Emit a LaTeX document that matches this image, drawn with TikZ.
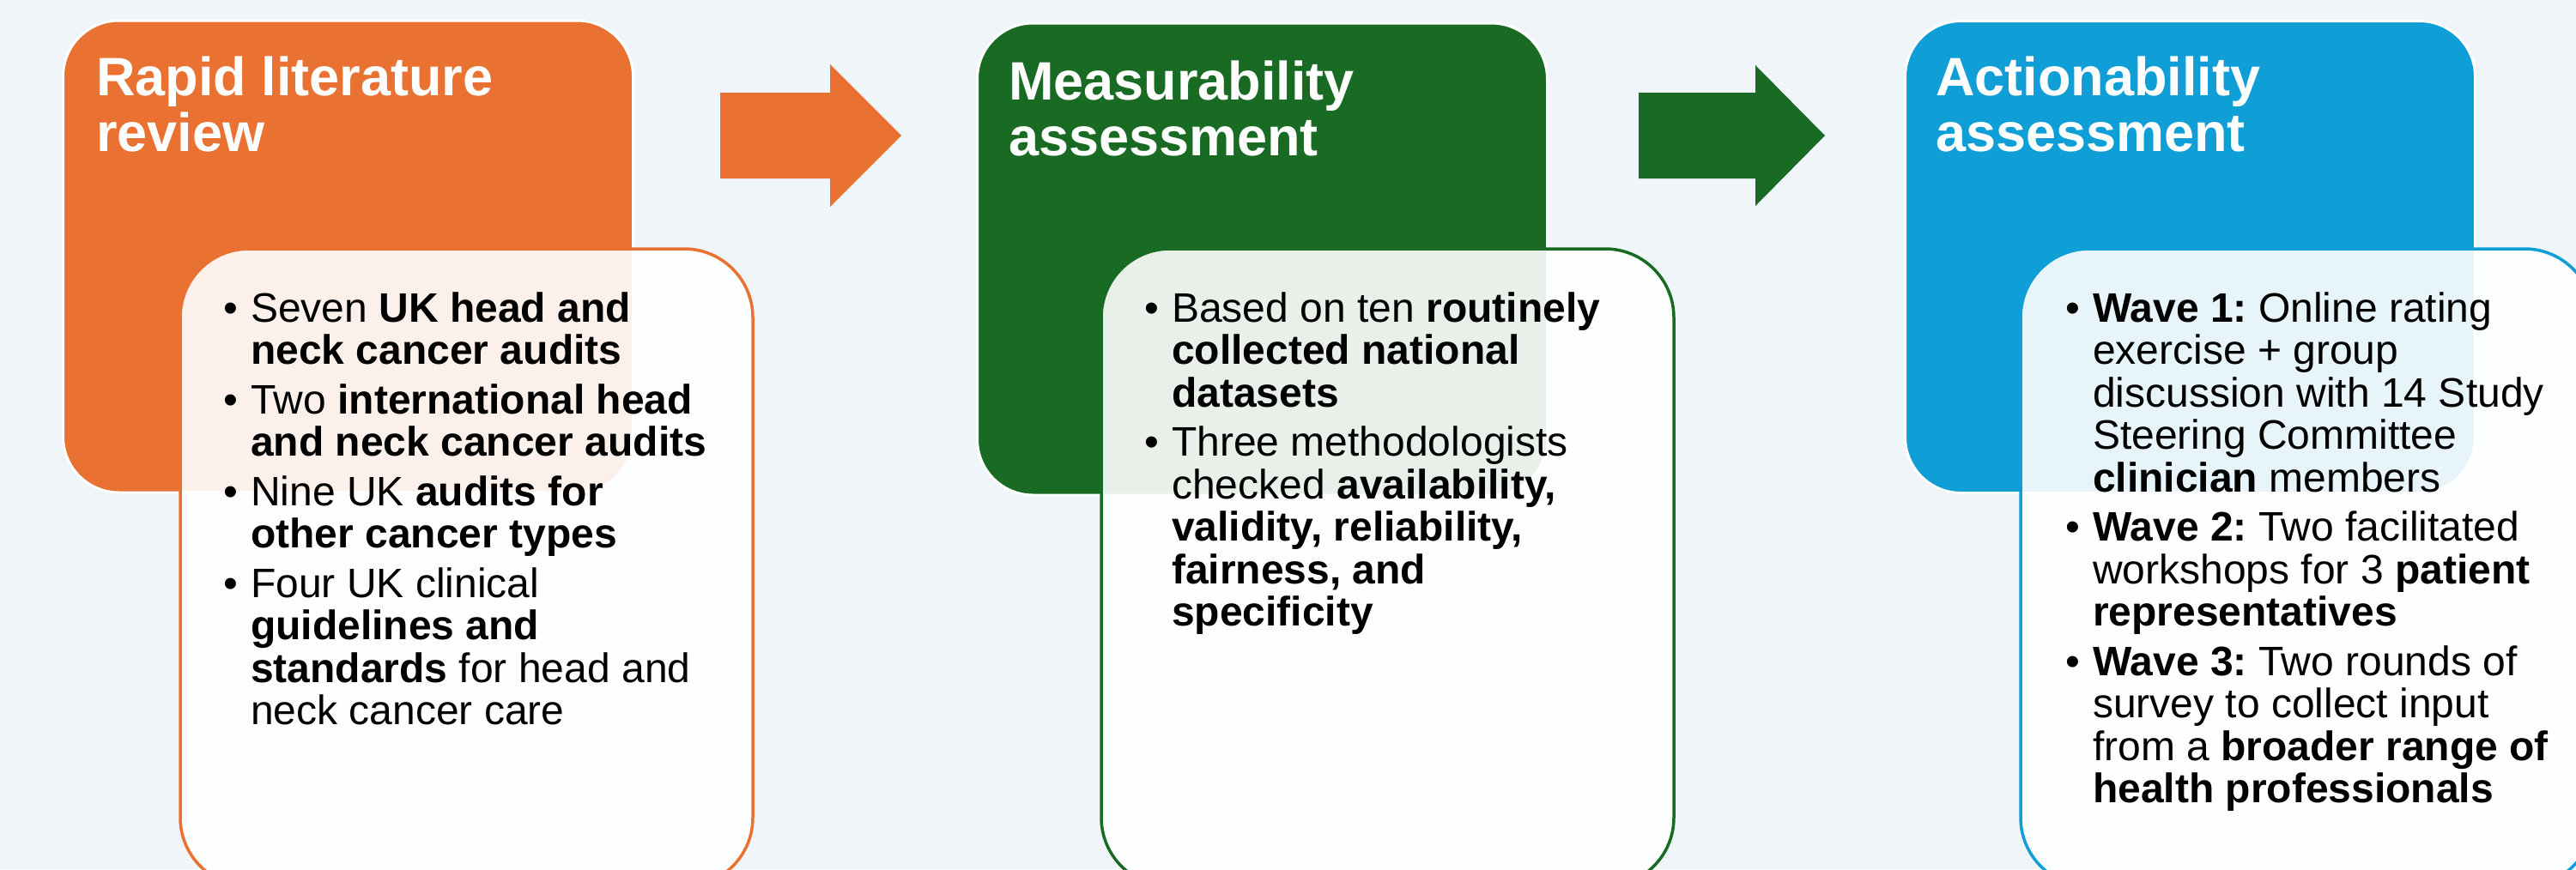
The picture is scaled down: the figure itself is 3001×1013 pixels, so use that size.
\documentclass[tikz,border=0pt]{standalone}
\usepackage{fontspec}
\setmainfont{Liberation Sans}
\frenchspacing
\definecolor{bg}{RGB}{240,245,250}
\definecolor{cO}{RGB}{233,113,50}
\definecolor{cG}{RGB}{25,107,36}
\definecolor{cB}{RGB}{15,158,213}
\newcommand\bitem{\par\hangindent=32pt\hangafter=1\noindent\makebox[32pt][l]{\textbullet}}
\newcommand\gapitem{\par\vspace{8pt}}
\newcommand\ttltext[1]{\begin{minipage}[t]{600pt}\fontsize{63}{65}\selectfont\bfseries\frenchspacing\lineskiplimit=-100pt\lineskip=0pt #1\end{minipage}}
\newcommand\bodytext[1]{\begin{minipage}[t]{700pt}\fontsize{48}{49.5}\selectfont\frenchspacing\lineskiplimit=-100pt\lineskip=0pt\parindent=0pt #1\end{minipage}}
\tikzset{
  mainbox/.style={rounded corners=65pt, minimum width=664pt, minimum height=550pt, draw=white, line width=3pt, inner sep=0pt},
  innerbox/.style={rounded corners=80pt, minimum width=667pt, minimum height=743pt, fill=white, fill opacity=0.9, line width=3.5pt, inner sep=0pt},
  titletext/.style={anchor=base west, inner sep=0pt, text=white},
  listtext/.style={anchor=base west, inner sep=0pt, text=black},
}
\begin{document}
\begin{tikzpicture}[x=1pt,y=-1pt]
\fill[bg] (0,0) rectangle (3001,1013);
\clip (0,0) rectangle (3001,1013);
% main boxes
\node[mainbox, fill=cO] (mainO) at (405.5,299) {};
\node[mainbox, fill=cG] (mainG) at (1470.5,302) {};
\node[mainbox, fill=cB] (mainB) at (2551.5,299.5) {};
% block arrows
\fill[cO] (839,108) -- (967,108) -- (967,75) -- (1050,158) -- (967,241) -- (967,208) -- (839,208) -- cycle;
\fill[cG] (1909,108) -- (2045,108) -- (2045,76) -- (2126,158) -- (2045,240) -- (2045,208) -- (1909,208) -- cycle;
% inner boxes
\node[innerbox, draw=cO] (innO) at (543.5,661.5) {};
\node[innerbox, draw=cG] (innG) at (1616.5,661.5) {};
\node[innerbox, draw=cB] (innB) at (2687.5,661.5) {};
% titles
\node[titletext] (tO) at (112,111) {\ttltext{Rapid literature\\review}};
\node[titletext] (tG) at (1175,116) {\ttltext{Measurability\\assessment}};
\node[titletext] (tB) at (2255,111) {\ttltext{Actionability\\assessment}};
% bullet texts
\node[listtext] (bO) at (260,375) {\bodytext{%
\bitem Seven \textbf{UK head and}\newline\textbf{neck cancer audits}\gapitem
\bitem Two \textbf{international head}\newline\textbf{and neck cancer audits}\gapitem
\bitem Nine UK \textbf{audits for}\newline\textbf{other cancer types}\gapitem
\bitem Four UK clinical\newline\textbf{guidelines and}\newline\textbf{standards} for head and\newline neck cancer care}};
\node[listtext] (bG) at (1333,375) {\bodytext{%
\bitem Based on ten \textbf{routinely}\newline\textbf{collected national}\newline\textbf{datasets}\gapitem
\bitem Three methodologists\newline checked \textbf{availability,}\newline\textbf{validity, reliability,}\newline\textbf{fairness, and}\newline\textbf{specificity}}};
\node[listtext] (bB) at (2406,375) {\bodytext{%
\bitem \textbf{Wave 1:} Online rating\newline exercise + group\newline discussion with 14 Study\newline Steering Committee\newline\textbf{clinician} members\gapitem
\bitem \textbf{Wave 2:} Two facilitated\newline workshops for 3 \textbf{patient}\newline\textbf{representatives}\gapitem
\bitem \textbf{Wave 3:} Two rounds of\newline survey to collect input\newline from a \textbf{broader range of}\newline\textbf{health professionals}}};
\end{tikzpicture}
\end{document}
